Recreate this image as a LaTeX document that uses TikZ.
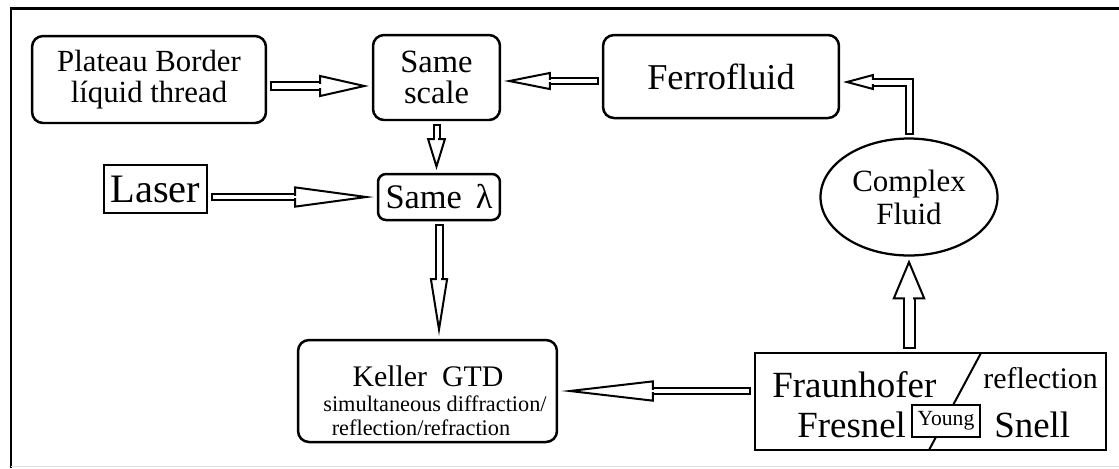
\documentclass[tikz,border=0pt]{standalone}
\usepackage{fontspec}
\setmainfont{Liberation Serif}
\usetikzlibrary{arrows.meta,shapes.geometric}

\begin{document}
\begin{tikzpicture}[x=0.02cm,y=-0.02cm,
    box/.style={draw,line width=0.05cm,rounded corners=0.22cm,outer sep=0.08cm,
        inner sep=0pt,align=center},
    plainbox/.style={draw,line width=0.05cm,outer sep=0.08cm,inner sep=0pt,align=center},
    fluid/.style={draw,ellipse,line width=0.045cm,outer sep=0.08cm,inner sep=0pt,align=center},
    hollow/.style n args={3}{draw=white,line width=0.2pt,
        {Bar[width=#1,line width=0.04cm,color=black]}-{Triangle[length=#2,width=#3,line width=0.04cm,color=black,fill=white]},
        preaction={draw=black,arrows=-,line width=0.04cm,double=white,
            double distance=#1-0.08cm,shorten >=#2},
        postaction={draw=white,arrows=-,line width=#1-0.11cm,
            shorten <=0.1cm,shorten >=#2-0.1cm}},
    divider/.style={line width=0.04cm},
    inside/.style={anchor=base west,inner sep=0pt},
    line/.style={anchor=base,inner sep=0pt}
]
    \useasboundingbox (0,0) rectangle (1119,468);
    \draw[line width=0.06cm] (1119,8.5) -- (11,8.5) -- (11,468);
    \draw[line width=0.03cm,black!12] (11,466.5) -- (1119,466.5);

    \node[box,minimum width=4.68cm,minimum height=1.74cm,font=\fontsize{17.5}{18}\selectfont]
        (plateau) at (149,79.5) {Plateau Border\\líquid thread};
    \node[box,minimum width=2.54cm,minimum height=1.70cm,font=\fontsize{18.5}{18}\selectfont]
        (samescale) at (436.5,77.5) {Same\\scale};
    \node[box,minimum width=4.72cm,minimum height=1.66cm,font=\fontsize{20.7}{24}\selectfont]
        (ferro) at (721,76.5) {Ferrofluid};
    \node[plainbox,minimum width=2.06cm,minimum height=0.96cm,font=\fontsize{23}{26}\selectfont]
        (laser) at (155.5,189) {Laser};
    \node[box,rounded corners=0.16cm,minimum width=2.44cm,minimum height=0.92cm,
        font=\fontsize{19.6}{22}\selectfont]
        (samelambda) at (439,197) {Same\hspace{0.4em}λ};
    \node[fluid,minimum width=3.54cm,minimum height=2.34cm,font=\fontsize{17.6}{18.7}\selectfont]
        (complex) at (909,197) {Complex\\Fluid};

    \node[box,minimum width=5.18cm,minimum height=2.04cm] (keller) at (427.5,391) {};
    \node[line,font=\fontsize{17}{20}\selectfont] (kellertitle) at (428,386) {Keller~ GTD};
    \node[line,font=\fontsize{12.7}{14}\selectfont] (kellerline1) at (435,411) {simultaneous diffraction/};
    \node[line,font=\fontsize{12.7}{14}\selectfont] (kellerline2) at (421,435) {reflection/refraction};

    \node[plainbox,minimum width=7.02cm,minimum height=1.94cm] (fraun) at (930.5,401.5) {};
    \draw[divider] ([xshift=1.01cm,yshift=-0.08cm]fraun.north) -- ([xshift=-0.03cm,yshift=0.08cm]fraun.south);
    \node[plainbox,line width=0.04cm,fill=white,minimum width=1.36cm,minimum height=0.64cm,
        font=\fontsize{12.3}{14}\selectfont] (young) at (946,421) {Young};
    \node[inside,font=\fontsize{21}{24}\selectfont] (fraunhofer) at (772,397) {Fraunhofer};
    \node[inside,font=\fontsize{21}{24}\selectfont] (fresnel) at (797,437) {Fresnel};
    \node[inside,font=\fontsize{17}{20}\selectfont] (reflection) at (983,388) {reflection};
    \node[inside,font=\fontsize{21}{24}\selectfont] (snell) at (994,437) {Snell};

    \draw[hollow={0.2cm}{1.0cm}{0.44cm}] (plateau.east |- 0,86) -- (samescale.west |- 0,86);
    \draw[hollow={0.16cm}{0.94cm}{0.36cm}] (ferro.west |- 0,81) -- (samescale.east |- 0,81);
    \draw[hollow={0.18cm}{0.62cm}{0.32cm}] (complex.north) |- (ferro.east |- 0,82);
    \draw[hollow={0.16cm}{0.64cm}{0.38cm}] (samescale.south) -- (samescale.south |- samelambda.north);
    \draw[hollow={0.16cm}{1.6cm}{0.42cm}] (laser.east |- samelambda.west) -- (samelambda.west);
    \draw[hollow={0.18cm}{1.16cm}{0.36cm}] (samelambda.south) -- (samelambda.south |- keller.north);
    \draw[hollow={0.16cm}{1.86cm}{0.42cm}] (fraun.west |- keller.east) -- (keller.east);
    \draw[hollow={0.26cm}{0.8cm}{0.66cm}] (fraun.north -| complex.south) -- (complex.south);
\end{tikzpicture}
\end{document}
